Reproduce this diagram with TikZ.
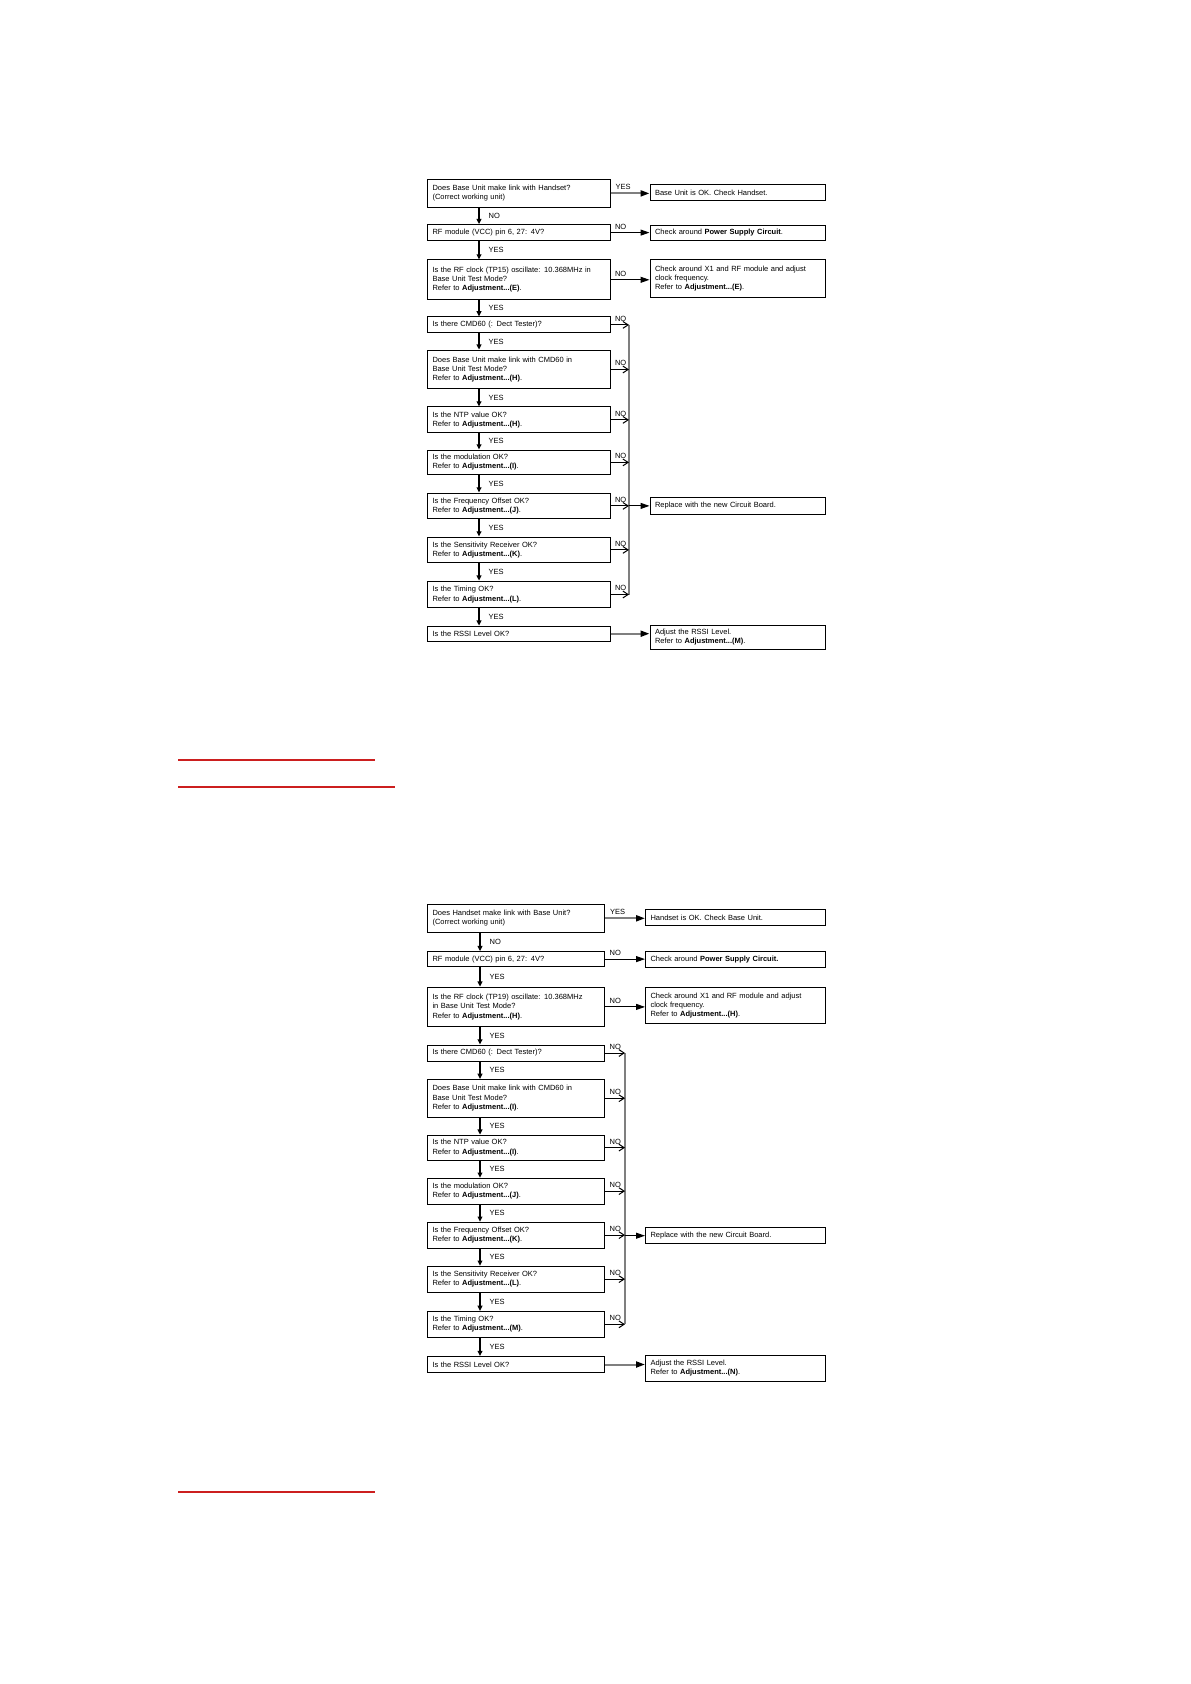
\documentclass[tikz,border=0pt]{standalone}
\usepackage{fontspec}
\setmainfont{Liberation Sans}
\usetikzlibrary{arrows.meta}
\definecolor{trunkgrey}{HTML}{7F7F7F}
\definecolor{linkred}{HTML}{CC1F1F}
\newcommand{\chartfont}{\fontsize{3.75}{4.6}\selectfont}
\newcommand{\adj}[1]{\textbf{Adjustment...(#1)}}

\begin{document}
\begin{tikzpicture}[
  x=0.5pt, y=-0.5pt,
  qbox/.style={draw, line width=0.5pt, font=\chartfont, align=left,
               inner xsep=2.5pt, inner ysep=0pt},
  qa/.style={qbox, text width=86.25pt},
  aa/.style={qbox, text width=82.5pt},
  qb/.style={qbox, text width=83.6pt},
  ab/.style={qbox, text width=84.75pt},
  yn/.style={font=\chartfont, text=black, inner sep=0.5pt},
  vlbl/.style={yn, right=4pt},
  hlbl/.style={yn, pos=0, anchor=south west, xshift=1.5pt, yshift=1pt},
  darrow/.style={-{Triangle[length=2.6pt, width=2.4pt]}, line width=0.7pt},
  harrow/.style={-{Triangle[length=4.5pt, width=3pt]}, line width=0.5pt},
  hgarrow/.style={-{Triangle[length=4.5pt, width=3pt, color=black]}, line width=1pt, trunkgrey},
  narrow/.style={-{Straight Barb[length=2.6pt, width=3.4pt]}, line width=0.5pt},
  trunk/.style={line width=1pt, trunkgrey},
  redline/.style={linkred, line width=0.8pt},
]

\fill[white] (0,0) rectangle (1190,1684);
\useasboundingbox (0,0) rectangle (1190,1684);

%% ---- Base Unit chart ----
\coordinate (tcol)   at (479,0);
\coordinate (ttrunk) at (629,0);

\node[qa, minimum height=14pt]   (tq1)  at (518.75,193.4) {Does Base Unit make link with Handset?\\(Correct working unit)};
\node[aa, minimum height=8pt]    (ta1)  at (737.5,192.8)  {Base Unit is OK. Check Handset.};
\node[qa, minimum height=8pt]    (tq2)  at (518.75,232.6) {RF module (VCC) pin 6, 27: 4V?};
\node[aa, minimum height=7.6pt]  (ta2)  at (737.5,233)    {Check around \textbf{Power Supply Circuit}.};
\node[qa, minimum height=19.8pt] (tq3)  at (518.75,279.8) {Is the RF clock (TP15) oscillate: 10.368MHz in\\Base Unit Test Mode?\\Refer to \adj{E}.};
\node[aa, minimum height=18.8pt] (ta3)  at (737.5,278.7)  {Check around X1 and RF module and adjust\\clock frequency.\\Refer to \adj{E}.};
\node[qa, minimum height=8pt]    (tq4)  at (518.75,324.9) {Is there CMD60 (: Dect Tester)?};
\node[qa, minimum height=19.4pt] (tq5)  at (518.75,369.5) {Does Base Unit make link with CMD60 in\\Base Unit Test Mode?\\Refer to \adj{H}.};
\node[qa, minimum height=12.9pt] (tq6)  at (518.75,419.9) {Is the NTP value OK?\\Refer to \adj{H}.};
\node[qa, minimum height=12.4pt] (tq7)  at (518.75,462.4) {Is the modulation OK?\\Refer to \adj{I}.};
\node[qa, minimum height=12.9pt] (tq8)  at (518.75,505.9) {Is the Frequency Offset OK?\\Refer to \adj{J}.};
\node[aa, minimum height=8.5pt]  (trep) at (737.5,505.9)  {Replace with the new Circuit Board.};
\node[qa, minimum height=12.9pt] (tq9)  at (518.75,549.9) {Is the Sensitivity Receiver OK?\\Refer to \adj{K}.};
\node[qa, minimum height=13.4pt] (tq10) at (518.75,594.5) {Is the Timing OK?\\Refer to \adj{L}.};
\node[qa, minimum height=7.6pt]  (tq11) at (518.75,633.7) {Is the RSSI Level OK?};
\node[aa, minimum height=12.4pt] (trssi) at (737.5,637.4) {Adjust the RSSI Level.\\Refer to \adj{M}.};

%% main column
\draw[darrow] (tq1.south -| tcol) -- node[vlbl] {NO}  (tq2.north -| tcol);
\draw[darrow] (tq2.south -| tcol) -- node[vlbl] {YES} (tq3.north -| tcol);
\draw[darrow] (tq3.south -| tcol) -- node[vlbl] {YES} (tq4.north -| tcol);
\draw[darrow] (tq4.south -| tcol) -- node[vlbl] {YES} (tq5.north -| tcol);
\draw[darrow] (tq5.south -| tcol) -- node[vlbl] {YES} (tq6.north -| tcol);
\draw[darrow] (tq6.south -| tcol) -- node[vlbl] {YES} (tq7.north -| tcol);
\draw[darrow] (tq7.south -| tcol) -- node[vlbl] {YES} (tq8.north -| tcol);
\draw[darrow] (tq8.south -| tcol) -- node[vlbl] {YES} (tq9.north -| tcol);
\draw[darrow] (tq9.south -| tcol) -- node[vlbl] {YES} (tq10.north -| tcol);
\draw[darrow] (tq10.south -| tcol) -- node[vlbl] {YES} (tq11.north -| tcol);

%% side exits
\draw[hgarrow] (tq1.east) -- node[hlbl] {YES} (tq1.east -| ta1.west);
\draw[harrow]  (tq2.east) -- node[hlbl] {NO}  (tq2.east -| ta2.west);
\draw[harrow]  (tq3.east) -- node[hlbl] {NO}  (tq3.east -| ta3.west);
\draw[hgarrow] (tq11.east) -- (tq11.east -| trssi.west);

%% collecting line to the board
\draw[trunk] (tq4.east -| ttrunk) -- (tq10.east -| ttrunk);
\draw[narrow] (tq4.east)  -- node[hlbl] {NO} (tq4.east -| ttrunk);
\draw[narrow] (tq5.east)  -- node[hlbl] {NO} (tq5.east -| ttrunk);
\draw[narrow] (tq6.east)  -- node[hlbl] {NO} (tq6.east -| ttrunk);
\draw[narrow] (tq7.east)  -- node[hlbl] {NO} (tq7.east -| ttrunk);
\draw[narrow] (tq8.east)  -- node[hlbl] {NO} (tq8.east -| ttrunk);
\draw[narrow] (tq9.east)  -- node[hlbl] {NO} (tq9.east -| ttrunk);
\draw[narrow] (tq10.east) -- node[hlbl] {NO} (tq10.east -| ttrunk);
\draw[harrow] (trep.west -| ttrunk) -- (trep.west);

%% ---- Red rules ----
\draw[redline] (178,760) -- (375,760);
\draw[redline] (178,787) -- (395,787);
\draw[redline] (178,1492) -- (375,1492);

%% ---- Handset chart ----
\coordinate (bcol)   at (480,0);
\coordinate (btrunk) at (625,0);

\node[qb, minimum height=14pt]   (bq1)  at (516.1,918.3)  {Does Handset make link with Base Unit?\\(Correct working unit)};
\node[ab, minimum height=8pt]    (ba1)  at (735.25,917.8) {Handset is OK. Check Base Unit.};
\node[qb, minimum height=7.5pt]  (bq2)  at (516.1,959.1)  {RF module (VCC) pin 6, 27: 4V?};
\node[ab, minimum height=8pt]    (ba2)  at (735.25,959.7) {Check around \textbf{Power Supply Circuit.}};
\node[qb, minimum height=19.8pt] (bq3)  at (516.1,1006.9) {Is the RF clock (TP19) oscillate: 10.368MHz\\in Base Unit Test Mode?\\Refer to \adj{H}.};
\node[ab, minimum height=18.3pt] (ba3)  at (735.25,1005.3) {Check around X1 and RF module and adjust\\clock frequency.\\Refer to \adj{H}.};
\node[qb, minimum height=8pt]    (bq4)  at (516.1,1053)   {Is there CMD60 (: Dect Tester)?};
\node[qb, minimum height=18.8pt] (bq5)  at (516.1,1098.2) {Does Base Unit make link with CMD60 in\\Base Unit Test Mode?\\Refer to \adj{I}.};
\node[qb, minimum height=12.5pt] (bq6)  at (516.1,1147.6) {Is the NTP value OK?\\Refer to \adj{I}.};
\node[qb, minimum height=12.9pt] (bq7)  at (516.1,1191.1) {Is the modulation OK?\\Refer to \adj{J}.};
\node[qb, minimum height=12.9pt] (bq8)  at (516.1,1235.1) {Is the Frequency Offset OK?\\Refer to \adj{K}.};
\node[ab, minimum height=8pt]    (brep) at (735.25,1235.7) {Replace with the new Circuit Board.};
\node[qb, minimum height=12.9pt] (bq9)  at (516.1,1279.1) {Is the Sensitivity Receiver OK?\\Refer to \adj{L}.};
\node[qb, minimum height=12.9pt] (bq10) at (516.1,1324.3) {Is the Timing OK?\\Refer to \adj{M}.};
\node[qb, minimum height=8pt]    (bq11) at (516.1,1364.5) {Is the RSSI Level OK?};
\node[ab, minimum height=12.9pt] (brssi) at (735.25,1368.3) {Adjust the RSSI Level.\\Refer to \adj{N}.};

%% main column
\draw[darrow] (bq1.south -| bcol) -- node[vlbl] {NO}  (bq2.north -| bcol);
\draw[darrow] (bq2.south -| bcol) -- node[vlbl] {YES} (bq3.north -| bcol);
\draw[darrow] (bq3.south -| bcol) -- node[vlbl] {YES} (bq4.north -| bcol);
\draw[darrow] (bq4.south -| bcol) -- node[vlbl] {YES} (bq5.north -| bcol);
\draw[darrow] (bq5.south -| bcol) -- node[vlbl] {YES} (bq6.north -| bcol);
\draw[darrow] (bq6.south -| bcol) -- node[vlbl] {YES} (bq7.north -| bcol);
\draw[darrow] (bq7.south -| bcol) -- node[vlbl] {YES} (bq8.north -| bcol);
\draw[darrow] (bq8.south -| bcol) -- node[vlbl] {YES} (bq9.north -| bcol);
\draw[darrow] (bq9.south -| bcol) -- node[vlbl] {YES} (bq10.north -| bcol);
\draw[darrow] (bq10.south -| bcol) -- node[vlbl] {YES} (bq11.north -| bcol);

%% side exits
\draw[hgarrow] (bq1.east) -- node[hlbl] {YES} (bq1.east -| ba1.west);
\draw[harrow]  (bq2.east) -- node[hlbl] {NO}  (bq2.east -| ba2.west);
\draw[harrow]  (bq3.east) -- node[hlbl] {NO}  (bq3.east -| ba3.west);
\draw[hgarrow] (bq11.east) -- (bq11.east -| brssi.west);

%% collecting line to the board
\draw[trunk] (bq4.east -| btrunk) -- (bq10.east -| btrunk);
\draw[narrow] (bq4.east)  -- node[hlbl] {NO} (bq4.east -| btrunk);
\draw[narrow] (bq5.east)  -- node[hlbl] {NO} (bq5.east -| btrunk);
\draw[narrow] (bq6.east)  -- node[hlbl] {NO} (bq6.east -| btrunk);
\draw[narrow] (bq7.east)  -- node[hlbl] {NO} (bq7.east -| btrunk);
\draw[narrow] (bq8.east)  -- node[hlbl] {NO} (bq8.east -| btrunk);
\draw[narrow] (bq9.east)  -- node[hlbl] {NO} (bq9.east -| btrunk);
\draw[narrow] (bq10.east) -- node[hlbl] {NO} (bq10.east -| btrunk);
\draw[harrow] (brep.west -| btrunk) -- (brep.west);

\end{tikzpicture}
\end{document}
